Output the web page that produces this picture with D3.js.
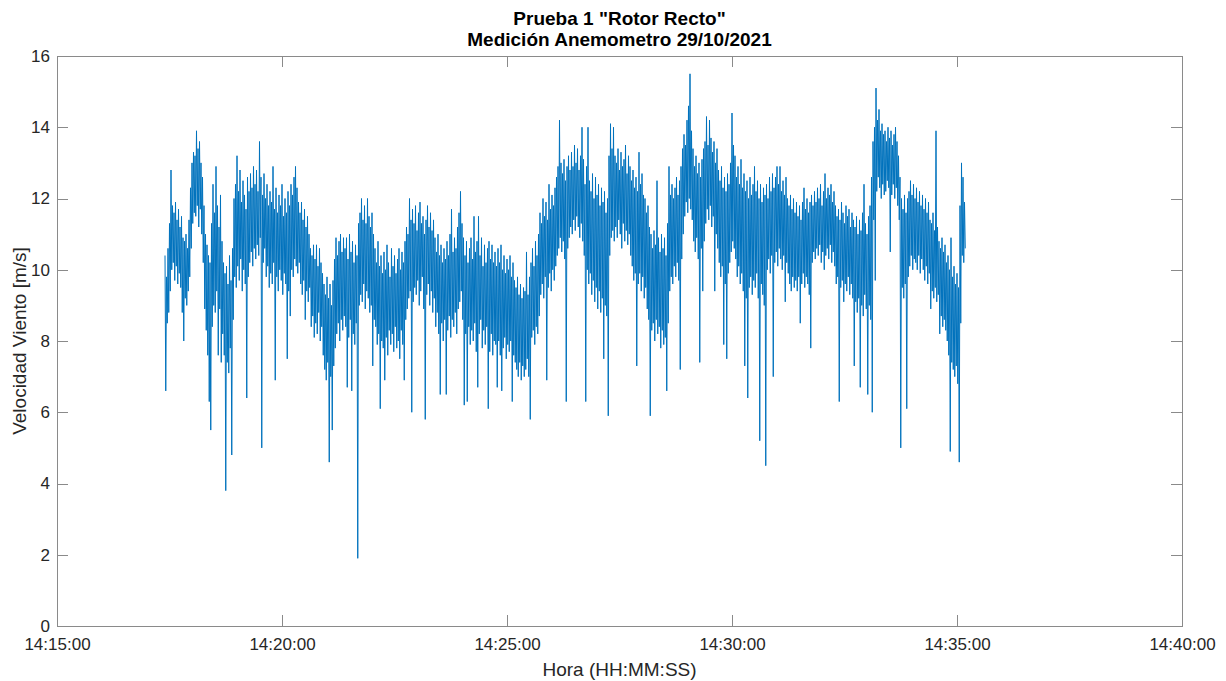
<!DOCTYPE html>
<html>
<head>
<meta charset="utf-8">
<script src="https://cdn.jsdelivr.net/npm/d3@7"></script>
<style>
  body { margin: 0; background: #fff; }
  svg { display: block; font-family: "Liberation Sans", Arial, Helvetica, sans-serif; }
  .axis text { fill: #262626; font-size: 17px; }
  .titulo { font-weight: bold; font-size: 19px; fill: #000; }
  .etiqueta { font-size: 19px; fill: #262626; }
</style>
</head>
<body>
<svg id="chart" width="1226" height="681"></svg>
<script>
// ticks / labels
var titleLines = ['Prueba 1 "Rotor Recto"', 'Medición Anemometro 29/10/2021'];
var xLabel = 'Hora (HH:MM:SS)';
var yLabel = 'Velocidad Viento [m/s]';
var xTicks = ['14:15:00', '14:20:00', '14:25:00', '14:30:00', '14:35:00', '14:40:00'];
var yTicks = [0, 2, 4, 6, 8, 10, 12, 14, 16];

// anemometer readings [m/s], one per second from 14:17:24 (one row = 40 s)
var sampleStart = '14:17:24';
var sampleStep = 1;
var velocidad = [
  10.4, 6.6, 9.8, 8.5, 10.6, 8.8, 11.3, 9.4, 12.8, 10.0, 11.8, 10.2, 11.6, 9.7, 11.9, 10.1, 11.4, 9.6, 11.7, 9.9, 11.2, 9.5, 11.5, 8.8, 10.9, 8.0, 10.8, 9.2, 11.0, 9.0, 10.6, 9.4, 11.4, 9.8, 12.3, 10.6, 13.0, 11.3, 13.3, 11.6,
  13.2, 11.5, 13.9, 11.8, 13.4, 11.2, 13.6, 11.7, 13.0, 11.0, 12.6, 10.2, 11.8, 8.9, 11.0, 8.3, 10.7, 7.6, 10.4, 6.3, 10.2, 5.5, 11.3, 8.4, 12.4, 9.0, 11.6, 8.8, 12.9, 9.4, 11.8, 7.6, 11.2, 8.9, 12.1, 7.4, 10.8, 8.2, 10.2, 7.6,
  9.9, 3.8, 10.1, 7.4, 9.6, 7.1, 10.4, 7.8, 9.7, 4.8, 10.6, 8.6, 12.0, 9.8, 12.4, 9.5, 13.2, 10.1, 12.2, 9.7, 12.8, 10.3, 11.9, 9.4, 12.5, 10.0, 12.1, 9.6, 11.7, 6.4, 12.6, 9.8, 12.2, 10.2, 12.7, 10.5, 12.3, 10.1, 12.9, 10.6,
  12.4, 10.3, 12.8, 10.7, 12.2, 10.4, 13.6, 10.9, 12.6, 5.0, 12.1, 10.2, 12.7, 10.6, 12.0, 9.8, 12.4, 10.1, 11.8, 9.5, 12.2, 9.9, 11.9, 9.6, 12.9, 10.2, 11.7, 6.9, 12.3, 9.8, 11.6, 9.4, 12.1, 10.0, 11.8, 9.7, 12.4, 9.3, 11.5, 9.9,
  12.0, 9.6, 11.6, 7.5, 12.2, 9.4, 11.8, 8.7, 12.4, 10.0, 12.1, 9.8, 12.6, 10.3, 12.9, 10.1, 12.3, 9.9, 11.9, 10.2, 11.6, 9.6, 11.9, 9.3, 11.4, 9.7, 11.7, 8.6, 11.2, 9.4, 11.5, 9.1, 11.0, 9.5, 10.6, 8.4, 10.4, 8.7, 10.7, 8.1,
  10.3, 8.5, 10.7, 8.2, 10.1, 8.8, 10.6, 8.0, 10.2, 8.4, 9.9, 7.6, 9.6, 7.2, 9.3, 6.9, 9.8, 7.4, 9.2, 4.6, 9.6, 7.0, 9.0, 5.5, 9.7, 7.3, 10.3, 7.8, 10.9, 8.2, 10.4, 8.5, 10.8, 8.0, 11.0, 8.6, 10.5, 8.3, 10.9, 8.7,
  10.6, 8.4, 10.9, 6.7, 10.3, 8.1, 11.0, 8.6, 10.5, 6.6, 10.8, 8.2, 10.2, 7.9, 10.7, 8.5, 10.4, 1.9, 11.3, 9.0, 11.6, 9.3, 12.0, 9.1, 11.4, 9.6, 11.8, 8.9, 11.3, 9.4, 12.0, 9.2, 11.5, 8.8, 11.2, 9.0, 11.6, 7.3, 11.0, 8.6,
  10.6, 8.4, 10.2, 7.9, 10.8, 8.2, 10.1, 6.1, 10.4, 8.0, 9.9, 7.8, 10.5, 6.9, 10.0, 8.1, 10.7, 7.6, 10.2, 8.3, 9.8, 7.9, 10.6, 8.2, 10.1, 7.7, 10.4, 8.4, 9.9, 7.8, 10.3, 8.0, 10.6, 7.5, 10.0, 8.3, 10.5, 7.9, 10.2, 6.9,
  10.8, 8.6, 11.2, 8.9, 11.0, 9.2, 12.0, 9.4, 11.4, 6.0, 11.7, 9.1, 11.3, 9.5, 11.8, 9.3, 11.1, 9.7, 11.6, 9.0, 11.9, 9.4, 11.3, 9.8, 11.5, 8.9, 11.0, 5.8, 11.4, 9.3, 11.8, 9.6, 11.2, 9.0, 11.6, 9.4, 11.1, 8.8, 11.4, 9.2,
  10.9, 8.4, 10.5, 8.8, 11.0, 8.2, 10.4, 6.5, 10.7, 8.5, 10.2, 8.0, 10.6, 8.6, 10.3, 6.5, 10.8, 8.3, 10.4, 8.7, 11.0, 8.1, 11.7, 8.6, 10.5, 8.4, 10.9, 8.8, 10.6, 8.2, 11.2, 8.9, 11.6, 9.1, 12.2, 9.4, 11.3, 8.6, 10.9, 6.2,
  10.4, 8.2, 10.8, 6.3, 10.2, 8.4, 10.6, 7.9, 10.9, 8.3, 10.3, 8.0, 11.5, 8.5, 10.5, 7.7, 10.8, 6.7, 11.5, 8.2, 10.4, 8.6, 10.9, 7.8, 10.1, 8.3, 10.7, 7.9, 10.2, 8.4, 10.6, 6.1, 10.8, 7.7, 10.3, 8.2, 10.7, 7.6, 10.2, 8.0,
  10.5, 7.9, 10.1, 6.7, 10.6, 8.0, 10.2, 7.6, 10.7, 6.6, 10.0, 7.8, 10.4, 8.1, 9.9, 7.5, 10.3, 7.9, 10.0, 7.7, 10.4, 8.0, 9.8, 6.3, 10.2, 7.6, 9.7, 7.4, 9.5, 7.2, 9.8, 7.0, 9.3, 7.4, 9.6, 6.9, 9.2, 7.3, 9.5, 7.0,
  9.4, 7.2, 10.5, 7.5, 9.3, 7.0, 9.8, 5.8, 10.2, 8.1, 10.6, 8.3, 10.1, 7.9, 10.8, 8.4, 10.4, 8.2, 11.0, 8.7, 11.6, 9.3, 11.3, 9.6, 12.0, 9.2, 11.5, 9.8, 11.9, 6.9, 11.4, 9.5, 12.4, 9.9, 11.7, 9.4, 12.1, 10.0, 11.8, 9.7,
  12.3, 10.1, 12.6, 10.4, 12.9, 10.6, 14.2, 10.9, 13.0, 10.5, 12.7, 10.8, 13.1, 10.3, 12.5, 6.3, 12.9, 10.6, 13.2, 10.9, 12.8, 11.2, 13.3, 11.0, 12.9, 11.4, 13.5, 11.1, 13.0, 11.5, 13.4, 11.2, 12.8, 10.9, 13.2, 11.3, 14.0, 10.8, 13.1, 10.4,
  12.4, 6.3, 12.9, 10.0, 14.0, 9.6, 12.5, 9.9, 12.2, 9.3, 12.7, 9.7, 12.0, 9.1, 12.6, 9.5, 12.1, 8.9, 12.4, 9.4, 11.8, 8.8, 12.3, 9.2, 11.9, 7.5, 12.2, 9.0, 11.6, 8.7, 12.0, 5.9, 13.2, 10.4, 14.1, 10.9, 13.4, 11.1, 14.0, 10.8,
  13.2, 11.2, 13.0, 10.9, 13.4, 11.4, 12.8, 11.0, 13.3, 10.6, 12.9, 11.3, 13.1, 10.8, 13.5, 11.1, 12.7, 10.7, 13.2, 11.0, 12.9, 10.4, 12.5, 10.1, 12.8, 9.7, 12.3, 9.9, 12.6, 7.3, 12.2, 9.6, 13.3, 9.9, 12.4, 9.4, 12.7, 9.8, 12.1, 9.2,
  12.0, 9.5, 11.6, 8.9, 11.8, 8.6, 11.2, 5.9, 11.0, 8.3, 10.6, 8.5, 11.1, 8.0, 10.7, 8.6, 12.5, 8.2, 10.9, 8.4, 10.5, 7.8, 11.0, 8.3, 10.6, 7.9, 10.9, 8.1, 10.4, 6.6, 11.3, 8.5, 12.9, 9.4, 12.1, 9.8, 12.4, 9.6, 12.0, 10.1,
  12.3, 9.8, 12.6, 10.2, 12.1, 9.7, 12.5, 7.2, 12.9, 10.3, 13.4, 11.0, 13.8, 11.5, 13.5, 11.9, 14.2, 11.6, 14.6, 12.0, 15.5, 11.7, 13.9, 11.4, 13.4, 10.8, 12.9, 10.5, 13.2, 10.9, 12.7, 10.3, 13.0, 7.4, 12.6, 10.6, 13.1, 9.4, 13.4, 10.8,
  13.6, 11.3, 14.3, 11.7, 13.5, 11.4, 14.2, 11.8, 13.7, 11.2, 13.3, 11.5, 13.6, 9.4, 13.0, 11.0, 13.4, 10.6, 12.8, 10.2, 12.5, 9.8, 12.9, 10.1, 12.3, 7.9, 12.6, 9.6, 12.2, 7.5, 12.7, 9.9, 12.4, 10.2, 13.0, 10.5, 14.4, 10.8, 13.5, 10.6,
  13.2, 10.3, 12.6, 9.8, 12.9, 10.1, 12.4, 9.6, 13.1, 9.9, 12.3, 9.4, 12.7, 7.3, 12.2, 9.2, 12.5, 6.4, 12.0, 9.5, 12.6, 9.8, 12.1, 9.3, 12.4, 9.7, 12.9, 9.5, 12.2, 9.9, 12.5, 9.2, 12.0, 5.2, 12.4, 9.6, 11.9, 9.3, 12.3, 9.0,
  12.1, 4.5, 12.4, 10.0, 12.0, 10.3, 12.6, 9.9, 12.2, 10.4, 12.7, 7.0, 12.3, 10.2, 12.6, 10.5, 12.9, 10.1, 12.4, 10.6, 12.9, 10.3, 12.2, 10.0, 12.5, 10.4, 12.1, 9.1, 12.6, 10.2, 12.0, 9.9, 11.8, 9.6, 12.1, 9.4, 11.7, 9.8, 12.0, 9.5,
  11.6, 9.7, 11.9, 9.4, 11.5, 9.8, 11.8, 8.5, 11.4, 9.6, 11.9, 9.9, 12.3, 9.5, 11.7, 9.8, 12.0, 9.6, 11.6, 9.3, 11.9, 7.8, 12.1, 10.2, 11.8, 10.5, 12.2, 10.3, 11.9, 10.6, 12.3, 10.4, 12.0, 10.7, 12.4, 10.2, 11.8, 10.5, 12.2, 10.0,
  12.7, 10.4, 12.0, 10.6, 12.3, 10.3, 12.1, 10.7, 12.4, 10.2, 11.9, 10.5, 12.2, 10.1, 11.8, 9.6, 11.5, 9.8, 11.7, 6.3, 11.4, 9.5, 11.9, 9.7, 11.6, 9.1, 11.3, 9.6, 11.8, 9.4, 11.5, 9.8, 11.7, 9.3, 11.2, 9.6, 11.6, 9.2, 11.4, 7.3,
  11.2, 9.1, 11.5, 8.8, 11.0, 9.2, 11.4, 6.7, 11.1, 9.0, 11.6, 8.7, 12.4, 9.3, 11.3, 8.9, 11.0, 6.5, 11.5, 9.0, 11.8, 8.6, 12.6, 6.0, 13.6, 11.4, 14.0, 9.7, 15.1, 12.2, 14.2, 12.6, 14.5, 12.3, 13.9, 12.0, 14.1, 12.4, 13.8, 12.1,
  13.9, 12.2, 13.6, 12.5, 14.0, 12.3, 13.7, 10.5, 13.9, 12.1, 13.5, 12.4, 13.8, 12.0, 14.0, 12.3, 13.6, 11.8, 13.2, 11.4, 12.6, 5.0, 12.0, 9.5, 11.7, 9.2, 12.1, 9.6, 11.6, 6.1, 12.0, 9.8, 12.2, 10.1, 12.5, 10.4, 12.1, 10.0, 12.4, 10.3,
  12.0, 10.2, 12.3, 10.0, 11.9, 10.4, 12.2, 9.9, 11.8, 10.3, 12.1, 10.0, 11.7, 9.7, 12.0, 10.1, 11.6, 9.6, 11.9, 9.9, 11.4, 8.9, 11.3, 9.4, 11.6, 9.2, 11.1, 9.5, 13.9, 9.1, 11.2, 9.3, 10.8, 8.2, 10.6, 8.7, 10.9, 8.4, 10.5, 8.6,
  10.7, 8.3, 10.2, 8.0, 10.4, 7.6, 10.0, 4.9, 10.9, 7.4, 9.8, 7.2, 10.1, 7.0, 9.6, 7.3, 9.9, 6.8, 9.5, 4.6, 11.8, 8.5, 13.0, 10.4, 12.6, 10.2, 11.9, 10.6
];

var parseTime = d3.timeParse('%H:%M:%S');
var t0 = parseTime(sampleStart);
var data = velocidad.map(function(v, i) {
  return { time: d3.timeSecond.offset(t0, i * sampleStep), value: v };
});

var margin = {top: 56, right: 44, bottom: 55, left: 57},
    width = 1226 - margin.left - margin.right,
    height = 681 - margin.top - margin.bottom;

var svg = d3.select('#chart');
var g = svg.append('g')
  .attr('transform', 'translate(' + margin.left + ',' + margin.top + ')');

var tickTimes = xTicks.map(parseTime);

var x = d3.scaleTime()
  .domain([tickTimes[0], tickTimes[tickTimes.length - 1]])
  .range([0, width]);
var y = d3.scaleLinear()
  .domain([0, 16])
  .range([height, 0]);

// box
g.append('rect')
  .attr('width', width)
  .attr('height', height)
  .attr('fill', '#fff')
  .attr('stroke', '#8a8a8a')
  .attr('stroke-width', 1)
  .attr('shape-rendering', 'crispEdges');

var tickLen = 11;

// bottom axis with labels, ticks pointing in
g.append('g')
  .attr('class', 'axis')
  .attr('transform', 'translate(0,' + height + ')')
  .call(d3.axisBottom(x).tickValues(tickTimes).tickFormat(d3.timeFormat('%H:%M:%S'))
    .tickSizeInner(-tickLen).tickSizeOuter(0).tickPadding(12));

// top axis, ticks only
g.append('g')
  .attr('class', 'axis')
  .call(d3.axisTop(x).tickValues(tickTimes).tickFormat('')
    .tickSizeInner(-tickLen).tickSizeOuter(0));

// left axis
g.append('g')
  .attr('class', 'axis')
  .call(d3.axisLeft(y).tickValues(yTicks).tickFormat(d3.format('d'))
    .tickSizeInner(-tickLen).tickSizeOuter(0).tickPadding(7));

// right axis, ticks only
g.append('g')
  .attr('class', 'axis')
  .attr('transform', 'translate(' + width + ',0)')
  .call(d3.axisRight(y).tickValues(yTicks).tickFormat('')
    .tickSizeInner(-tickLen).tickSizeOuter(0));

g.selectAll('.axis .domain').remove();
g.selectAll('.axis line').attr('stroke', '#8a8a8a').attr('shape-rendering', 'crispEdges');

// the wind series
var valueLine = d3.line()
  .x(function(d) { return x(d.time); })
  .y(function(d) { return y(d.value); });

g.append('path')
  .datum(data)
  .attr('fill', 'none')
  .attr('stroke', '#0072BD')
  .attr('stroke-width', 1)
  .attr('stroke-linejoin', 'round')
  .attr('d', valueLine);

// title
svg.selectAll('.titulo')
  .data(titleLines)
  .enter().append('text')
  .attr('class', 'titulo')
  .attr('x', margin.left + width / 2)
  .attr('y', function(d, i) { return 25 + i * 21; })
  .attr('text-anchor', 'middle')
  .text(function(d) { return d; });

// axis labels
svg.append('text')
  .attr('class', 'etiqueta')
  .attr('x', margin.left + width / 2)
  .attr('y', 676)
  .attr('text-anchor', 'middle')
  .text(xLabel);

svg.append('text')
  .attr('class', 'etiqueta')
  .attr('transform', 'translate(26,' + (margin.top + height / 2) + ') rotate(-90)')
  .attr('text-anchor', 'middle')
  .text(yLabel);
</script>
</body>
</html>
